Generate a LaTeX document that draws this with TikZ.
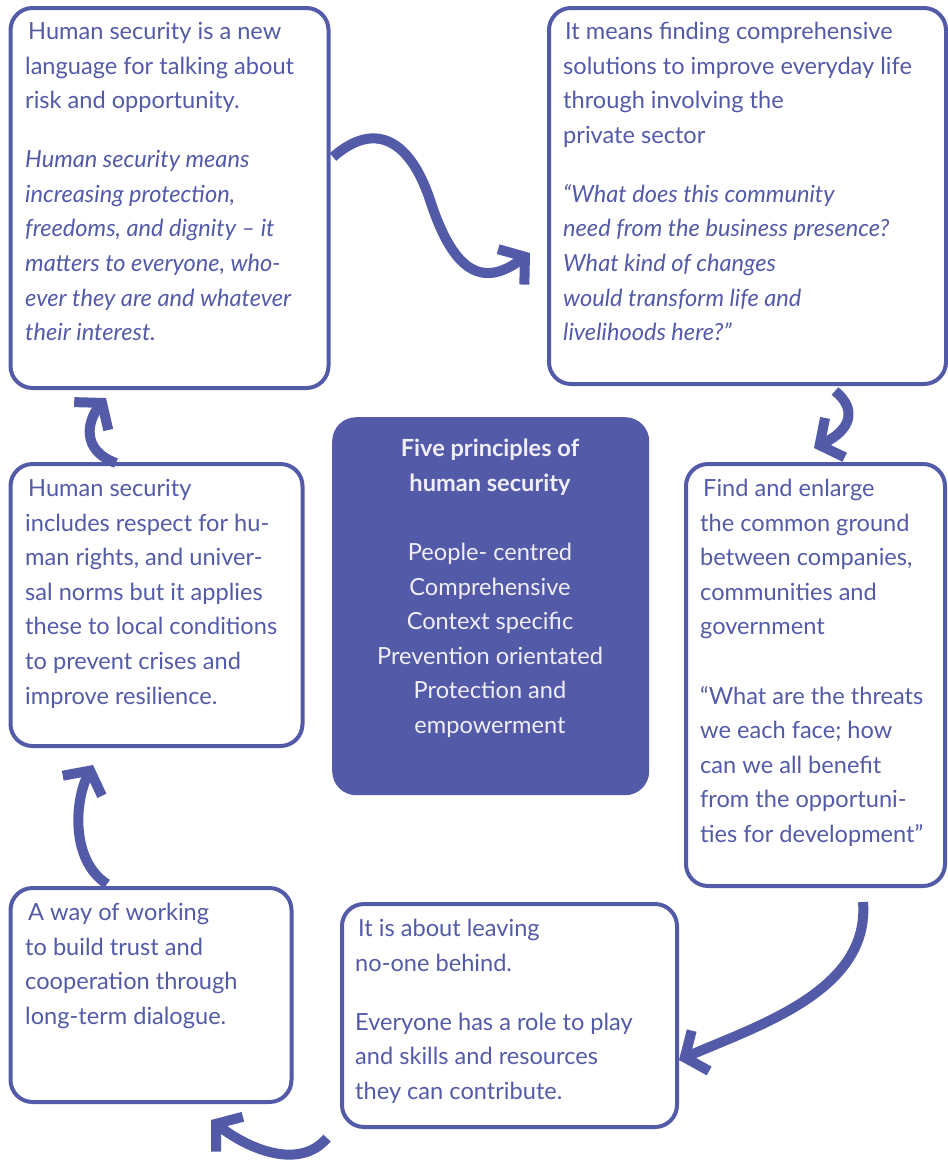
\documentclass[tikz,border=0pt]{standalone}
\usepackage{fontspec}
\setmainfont{Lato}
\usetikzlibrary{arrows.meta}
\definecolor{hsblue}{RGB}{83,90,168}
\definecolor{hslight}{RGB}{240,238,248}
\begin{document}
\begin{tikzpicture}[x=1pt,y=-1pt,
  box/.style={draw=hsblue,line width=4pt,rounded corners=22pt,anchor=north west,inner sep=0pt},
  txt/.style={anchor=north west,align=left,inner sep=0pt,text=hsblue,font=\fontsize{23.6}{34.6}\selectfont},
  ctxt/.style={anchor=north,align=center,inner sep=0pt,text=hslight,font=\fontsize{23.6}{34.6}\selectfont},
  arr/.style={draw=hsblue,line width=10pt,-{Straight Barb[length=17pt,width=44pt]}}]
\useasboundingbox (0,0) rectangle (948,1160);
% boxes
\node[box,minimum width=318pt,minimum height=380pt] (b1) at (8.5,6) {};
\node[box,minimum width=397pt,minimum height=376pt] (b2) at (547,6) {};
\node[box,minimum width=292pt,minimum height=282pt] (b3) at (8.5,462) {};
\node[anchor=north west,fill=hsblue,rounded corners=24pt,minimum width=317pt,minimum height=378pt,inner sep=0pt] (b4) at (332,417) {};
\node[box,minimum width=259pt,minimum height=422pt] (b5) at (684,462) {};
\node[box,minimum width=281pt,minimum height=214pt] (b6) at (8.5,886) {};
\node[box,minimum width=335pt,minimum height=223pt] (b7) at (340,902) {};
% texts
\node[txt] (t1) at (25,22) {\hspace{3pt}Human security is a new\\ language for talking about\\ risk and opportunity.\\[24.4pt]
\itshape Human security means\\ \itshape increasing protection,\\ \itshape freedoms, and dignity -- it\\ \itshape matters to everyone, who-\\ \itshape ever they are and whatever\\ \itshape their interest.};
\node[txt] (t2) at (563,22) {\hspace{2pt}It means finding comprehensive\\ solutions to improve everyday life\\ through involving the\\ private sector\\[24.4pt]
\itshape “What does this community\\ \itshape need from the business presence?\\ \itshape What kind of changes\\ \itshape would transform life and\\ \itshape livelihoods here?”};
\node[txt] (t3) at (25,479) {\hspace{3pt}Human security\\ includes respect for hu-\\ man rights, and univer-\\ sal norms but it applies\\ these to local conditions\\ to prevent crises and\\ improve resilience.};
\node[ctxt,font=\fontsize{23.6}{34.6}\selectfont\bfseries] (t4a) at (490,439) {Five principles of\\ human security};
\node[ctxt] (t4b) at (490,543) {People- centred\\ Comprehensive\\ Context specific\\ Prevention orientated\\ Protection and\\ empowerment};
\node[txt] (t5) at (700,479) {\hspace{3pt}Find and enlarge\\ the common ground\\ between companies,\\ communities and\\ government\\[34.6pt]
“What are the threats\\ we each face; how\\ can we all benefit\\ from the opportuni-\\ ties for development”};
\node[txt] (t6) at (25,903) {\hspace{3pt}A way of working\\ to build trust and\\ cooperation through\\ long-term dialogue.};
\node[txt] (t7) at (355,919) {\hspace{3pt}It is about leaving\\ no-one behind.\\[24.4pt]
Everyone has a role to play\\ and skills and resources\\ they can contribute.};
% arrows
\coordinate (a1s) at (333,157); \coordinate (a1e) at (530,253);
\coordinate (a2s) at (835,391); \coordinate (a2e) at (814,448);
\coordinate (a3s) at (863,902); \coordinate (a3e) at (679,1060);
\coordinate (a4s) at (327,1138); \coordinate (a4e) at (211,1120);
\coordinate (a5s) at (107,884); \coordinate (a5e) at (93,765);
\coordinate (a6s) at (116,463); \coordinate (a6e) at (106,398);
\draw[arr] (a1s) .. controls (375,120) and (410,140) .. (430,200) .. controls (452,268) and (480,290) .. (a1e);
\draw[arr] (a2s) .. controls (858,410) and (850,430) .. (a2e);
\draw[arr] (a3s) .. controls (870,990) and (760,1025) .. (a3e);
\draw[arr] (a4s) .. controls (300,1170) and (250,1150) .. (a4e);
\draw[arr] (a5s) .. controls (70,860) and (75,800) .. (a5e);
\draw[arr] (a6s) .. controls (80,450) and (88,420) .. (a6e);
\end{tikzpicture}
\end{document}
